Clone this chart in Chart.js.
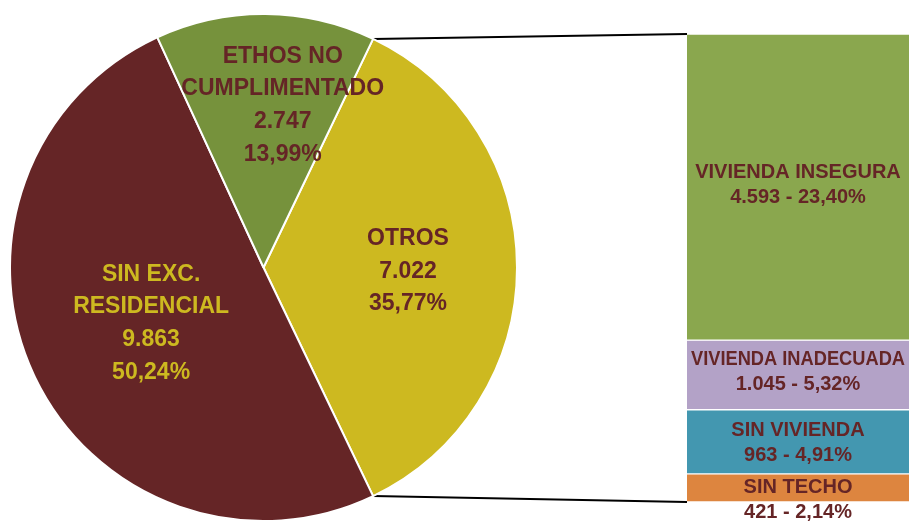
<!DOCTYPE html>
<html lang="es">
<head>
<meta charset="UTF-8">
<script src="https://cdn.jsdelivr.net/npm/chart.js"></script>
<title>Exclusión residencial</title>
<style>
    body { margin: 0; background: #fff; }
    #contenedor { position: relative; width: 909px; height: 524px; }
    #graficoBarra, #graficoPizza { position: absolute; left: 0; top: 0; }
</style>
</head>
<body>
<div id="contenedor">
    <canvas id="graficoBarra" width="909" height="524"></canvas>
    <canvas id="graficoPizza" width="530" height="524"></canvas>
</div>
<script>
    // datos del gráfico
    const categoriasPizza = [['OTROS'], ['SIN EXC.', 'RESIDENCIAL'], ['ETHOS NO', 'CUMPLIMENTADO']];
    const valoresPizza = [7022, 9863, 2747];
    const categoriasBarra = ['VIVIENDA INSEGURA', 'VIVIENDA INADECUADA', 'SIN VIVIENDA', 'SIN TECHO'];
    const valoresBarra = [4593, 1045, 963, 421];

    // estilos
    const coresPizza = ['#CDB920', '#652526', '#76923C'];
    const corTextoPizza = ['#652526', '#CDB920', '#652526'];
    const coresBarra = ['#8AA74E', '#B3A2C7', '#4397B0', '#DD853F'];
    const fracPizza = [0.57, 0.49, 0.64];          // distancia de la etiqueta al centro
    const desvioPizza = [[0, 4], [0, 3], [18, 0]];
    const desvioBarra = [-2, -3, 1, 12];
    const vinoTexto = '#652526';

    const total = valoresPizza.reduce((a, b) => a + b, 0);
    const totalBarra = valoresBarra.reduce((a, b) => a + b, 0);

    function miles(v) {
        return String(v).replace(/\B(?=(\d{3})+(?!\d))/g, '.');
    }
    function pct(v) {
        return (v / total * 100).toFixed(2).replace('.', ',') + '%';
    }

    const etiquetasPizza = {
        id: 'etiquetasPizza',
        afterDatasetsDraw(chart) {
            const ctx = chart.ctx;
            const arcos = chart.getDatasetMeta(0).data;
            const alto = 32.6;
            ctx.save();
            ctx.font = 'bold 23px "Liberation Sans"';
            ctx.textAlign = 'center';
            ctx.textBaseline = 'middle';
            arcos.forEach((arco, i) => {
                const p = arco.getProps(['x', 'y', 'startAngle', 'endAngle', 'outerRadius'], true);
                const medio = (p.startAngle + p.endAngle) / 2;
                const cx = p.x + Math.cos(medio) * p.outerRadius * fracPizza[i] + desvioPizza[i][0];
                const cy = p.y + Math.sin(medio) * p.outerRadius * fracPizza[i] + desvioPizza[i][1];
                const lineas = categoriasPizza[i].concat([miles(valoresPizza[i]), pct(valoresPizza[i])]);
                const y0 = cy - (lineas.length - 1) * alto / 2;
                ctx.fillStyle = corTextoPizza[i];
                lineas.forEach((t, j) => ctx.fillText(t, cx, y0 + j * alto));
            });
            ctx.restore();
        }
    };

    const pizza = new Chart(document.getElementById('graficoPizza'), {
        type: 'pie',
        data: {
            labels: categoriasPizza.map(l => l.join(' ')),
            datasets: [{
                data: valoresPizza,
                backgroundColor: coresPizza,
                borderColor: '#ffffff',
                borderWidth: 2
            }]
        },
        options: {
            responsive: false,
            animation: false,
            rotation: 90 - valoresPizza[0] / total * 180,
            layout: { padding: { left: 8, right: 11, top: 13, bottom: 2 } },
            plugins: { legend: { display: false }, tooltip: { enabled: false } }
        },
        plugins: [etiquetasPizza]
    });

    // líneas que unen la porción OTROS con la barra
    const conectores = {
        id: 'conectores',
        beforeDatasetsDraw(chart) {
            const arco = pizza.getDatasetMeta(0).data[0];
            const p = arco.getProps(['x', 'y', 'startAngle', 'endAngle', 'outerRadius'], true);
            const izq = chart.chartArea.left;
            const yArriba = chart.scales.y.getPixelForValue(0);
            const yAbajo = chart.scales.y.getPixelForValue(totalBarra);
            const ctx = chart.ctx;
            ctx.save();
            ctx.strokeStyle = '#000000';
            ctx.lineWidth = 2;
            ctx.beginPath();
            ctx.moveTo(p.x + Math.cos(p.startAngle) * p.outerRadius, p.y + Math.sin(p.startAngle) * p.outerRadius);
            ctx.lineTo(izq, yArriba);
            ctx.moveTo(p.x + Math.cos(p.endAngle) * p.outerRadius, p.y + Math.sin(p.endAngle) * p.outerRadius);
            ctx.lineTo(izq, yAbajo);
            ctx.stroke();
            ctx.restore();
        }
    };

    const etiquetasBarra = {
        id: 'etiquetasBarra',
        afterDatasetsDraw(chart) {
            const ctx = chart.ctx;
            const alto = 25;
            ctx.save();
            ctx.font = 'bold 20px "Liberation Sans"';
            ctx.textAlign = 'center';
            ctx.textBaseline = 'middle';
            ctx.fillStyle = vinoTexto;
            categoriasBarra.forEach((c, i) => {
                const barra = chart.getDatasetMeta(i).data[0];
                const b = barra.getProps(['x', 'y', 'base', 'width'], true);
                const cy = (b.y + b.base) / 2 + desvioBarra[i];
                const ancho = b.width - 8;
                ctx.fillText(c, b.x, cy - alto / 2, ancho);
                ctx.fillText(miles(valoresBarra[i]) + ' - ' + pct(valoresBarra[i]), b.x, cy + alto / 2, ancho);
            });
            ctx.restore();
        }
    };

    new Chart(document.getElementById('graficoBarra'), {
        type: 'bar',
        data: {
            labels: [''],
            datasets: categoriasBarra.map((c, i) => ({
                label: c,
                data: [valoresBarra[i]],
                backgroundColor: coresBarra[i],
                borderColor: '#ffffff',
                borderWidth: { top: 1, bottom: 1, left: 0, right: 0 },
                borderSkipped: false,
                barPercentage: 1,
                categoryPercentage: 1
            }))
        },
        options: {
            responsive: false,
            animation: false,
            layout: { padding: { left: 687, right: 0, top: 34, bottom: 22 } },
            plugins: { legend: { display: false }, tooltip: { enabled: false } },
            scales: {
                x: { stacked: true, display: false },
                y: { stacked: true, display: false, reverse: true, min: 0, max: totalBarra }
            }
        },
        plugins: [conectores, etiquetasBarra]
    });
</script>
</body>
</html>
